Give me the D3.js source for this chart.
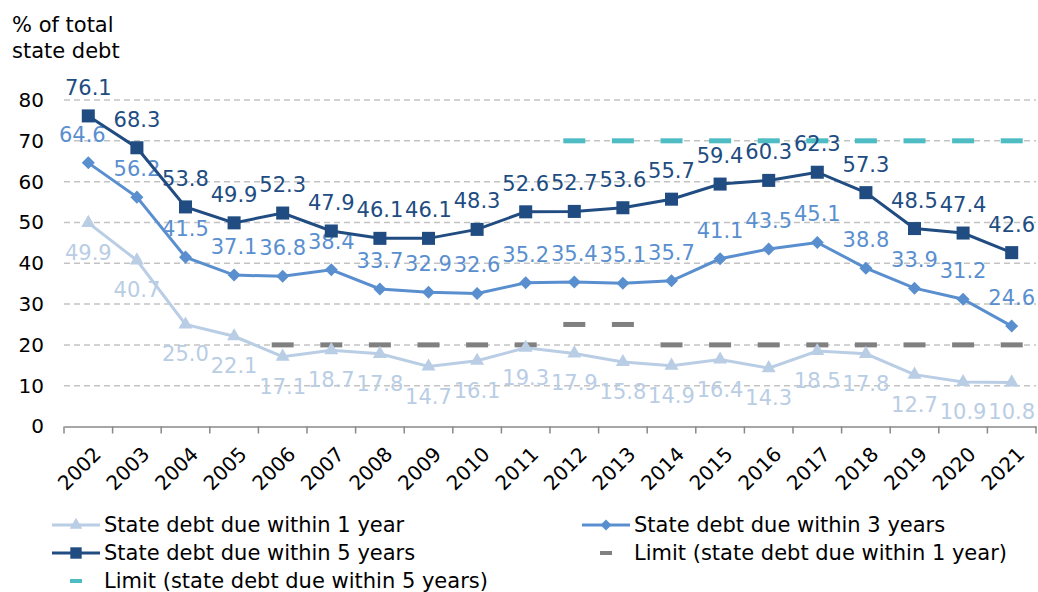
<!DOCTYPE html>
<html><head><meta charset="utf-8">
<script src="https://cdn.jsdelivr.net/npm/d3@7"></script>
<style>body{margin:0;background:#fff}svg{display:block;font-family:"DejaVu Sans",Verdana,sans-serif}</style>
</head><body><svg id="c" width="1038" height="592"></svg>
<script>
const years = ["2002","2003","2004","2005","2006","2007","2008","2009","2010","2011","2012","2013","2014","2015","2016","2017","2018","2019","2020","2021"];
const due1 = [49.9,40.7,25.0,22.1,17.1,18.7,17.8,14.7,16.1,19.3,17.9,15.8,14.9,16.4,14.3,18.5,17.8,12.7,10.9,10.8];
const due3 = [64.6,56.2,41.5,37.1,36.8,38.4,33.7,32.9,32.6,35.2,35.4,35.1,35.7,41.1,43.5,45.1,38.8,33.9,31.2,24.6];
const due5 = [76.1,68.3,53.8,49.9,52.3,47.9,46.1,46.1,48.3,52.6,52.7,53.6,55.7,59.4,60.3,62.3,57.3,48.5,47.4,42.6];
const limit1 = [null,null,null,null,20,20,20,20,20,20,25,25,20,20,20,20,20,20,20,20];
const limit5 = [null,null,null,null,null,null,null,null,null,null,70,70,70,70,70,70,70,70,70,70];
const yTicks = [0,10,20,30,40,50,60,70,80];
const seriesNames = ["State debt due within 1 year","State debt due within 3 years","State debt due within 5 years","Limit (state debt due within 1 year)","Limit (state debt due within 5 years)"];

const C1 = "#b9cde5", C3 = "#5a8fcf", C5 = "#214c81", CL1 = "#808080", CL5 = "#4dbcc3";
const svg = d3.select("#c");
const x = d3.scaleBand().domain(years).range([64, 1036]).padding(0);
const y = d3.scaleLinear().domain([0, 80]).range([426.5, 100]);
const cx = d => x(d) + x.bandwidth() / 2;

// gridlines
svg.append("g").selectAll("line").data(yTicks.filter(t => t > 0)).join("line")
  .attr("x1", 64).attr("x2", 1036).attr("y1", d => y(d)).attr("y2", d => y(d))
  .attr("stroke", "#c3c3c3").attr("stroke-width", 1.5).attr("stroke-dasharray", "6,4");

// y axis
const ya = svg.append("g").attr("transform", "translate(64,0)")
  .call(d3.axisLeft(y).tickValues(yTicks).tickSize(0).tickPadding(20));
ya.select(".domain").remove();
ya.selectAll("text").attr("font-size", 20).attr("fill", "#000").attr("font-family", "DejaVu Sans");

// x axis
const xa = svg.append("g").attr("transform", `translate(0,${y(0)})`)
  .call(d3.axisBottom(x).tickSize(0));
xa.select(".domain").attr("stroke", "#898989").attr("stroke-width", 1.5);
xa.selectAll(".tick line").remove();
xa.selectAll(".tick text").remove();
const bounds = years.map(d => x(d)).concat([x(years[years.length - 1]) + x.bandwidth()]);
xa.selectAll("line.tk").data(bounds).join("line").attr("class", "tk")
  .attr("x1", d => d).attr("x2", d => d).attr("y1", 0).attr("y2", 7)
  .attr("stroke", "#898989").attr("stroke-width", 1.5);
svg.append("g").selectAll("text").data(years).join("text")
  .attr("transform", d => `translate(${cx(d) + 9},${y(0) + 24}) rotate(-45)`)
  .attr("text-anchor", "end").attr("dy", "0.35em")
  .attr("font-size", 20).attr("fill", "#000").text(d => d);

// axis title
svg.append("text").attr("x", 12).attr("y", 32).attr("font-size", 21).text("% of total");
svg.append("text").attr("x", 12).attr("y", 58).attr("font-size", 21).text("state debt");

// limit markers
function limitMarks(vals, col) {
  svg.append("g").selectAll("rect").data(years.map((d, i) => ({ d, v: vals[i] })).filter(o => o.v != null)).join("rect")
    .attr("x", o => cx(o.d) - 11).attr("y", o => y(o.v) - 2.5).attr("width", 22).attr("height", 5).attr("fill", col);
}
limitMarks(limit1, CL1);
limitMarks(limit5, CL5);

const line = d3.line().x((v, i) => cx(years[i])).y(v => y(v));
function series(vals, col, shape, size, rot, dy, shift) {
  svg.append("path").datum(vals).attr("d", line).attr("fill", "none").attr("stroke", col).attr("stroke-width", 3);
  svg.append("g").selectAll("path").data(vals).join("path")
    .attr("transform", (v, i) => `translate(${cx(years[i])},${y(v)}) rotate(${rot})`)
    .attr("d", d3.symbol().type(shape).size(size)).attr("fill", col);
  svg.append("g").selectAll("text").data(vals).join("text")
    .attr("x", (v, i) => cx(years[i]) + (shift[i] || 0)).attr("y", v => y(v) + dy)
    .attr("text-anchor", "middle").attr("font-size", 21).attr("fill", col)
    .text(v => v.toFixed(1));
}
series(due1, C1, d3.symbolTriangle, 85, 0, 37, {});
series(due3, C3, d3.symbolSquare, 85, 45, -21, {0: -6});
series(due5, C5, d3.symbolSquare, 170, 0, -21, {});

// legend
const lg = svg.append("g");
const items = [
  { n: seriesNames[0], c: C1, s: d3.symbolTriangle, r: 0, x: 52, y: 525, line: true, sz: 70 },
  { n: seriesNames[1], c: C3, s: d3.symbolSquare, r: 45, x: 582, y: 525, line: true, sz: 60 },
  { n: seriesNames[2], c: C5, s: d3.symbolSquare, r: 0, x: 52, y: 553, line: true, sz: 130 },
  { n: seriesNames[3], c: CL1, x: 582, y: 553, line: false },
  { n: seriesNames[4], c: CL5, x: 52, y: 581, line: false }
];
items.forEach(it => {
  if (it.line) {
    lg.append("line").attr("x1", it.x).attr("x2", it.x + 48).attr("y1", it.y).attr("y2", it.y).attr("stroke", it.c).attr("stroke-width", 3);
    lg.append("path").attr("transform", `translate(${it.x + 24},${it.y}) rotate(${it.r})`).attr("d", d3.symbol().type(it.s).size(it.sz)).attr("fill", it.c);
  } else {
    lg.append("rect").attr("x", it.x + 18).attr("y", it.y - 2).attr("width", 12).attr("height", 4).attr("fill", it.c);
  }
  lg.append("text").attr("x", it.x + 52).attr("y", it.y).attr("dy", "0.35em").attr("font-size", 21).attr("fill", "#000").text(it.n);
});
</script></body></html>
